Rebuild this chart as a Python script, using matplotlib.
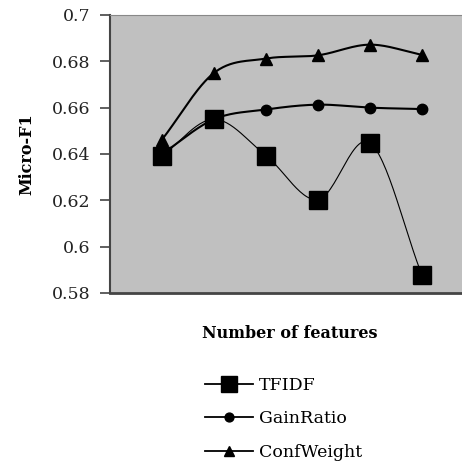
import matplotlib
matplotlib.use("Agg")
import matplotlib.pyplot as plt
import numpy as np
from matplotlib.lines import Line2D

# data
feature_steps = [1, 2, 3, 4, 5, 6]
tfidf = [0.6392, 0.6550, 0.6393, 0.6203, 0.6448, 0.5877]
gain_ratio = [0.6400, 0.6550, 0.6592, 0.6613, 0.6600, 0.6594]
conf_weight = [0.6462, 0.6750, 0.6812, 0.6826, 0.6872, 0.6828]
y_ticks = [0.58, 0.6, 0.62, 0.64, 0.66, 0.68, 0.7]
y_tick_labels = ["0.58", "0.6", "0.62", "0.64", "0.66", "0.68", "0.7"]

plt.rcParams["font.family"] = ["DejaVu Serif"]


def smooth(xs, ys, n=30):
    """Catmull-Rom style smoothing like the spreadsheet 'smoothed line'."""
    xs = np.asarray(xs, float)
    ys = np.asarray(ys, float)
    px = np.concatenate([[2 * xs[0] - xs[1]], xs, [2 * xs[-1] - xs[-2]]])
    py = np.concatenate([[2 * ys[0] - ys[1]], ys, [2 * ys[-1] - ys[-2]]])
    out_x, out_y = [], []
    t = np.linspace(0, 1, n)
    for i in range(1, len(px) - 2):
        p0x, p1x, p2x, p3x = px[i - 1:i + 3]
        p0y, p1y, p2y, p3y = py[i - 1:i + 3]
        c1x, c1y = p1x + (p2x - p0x) / 6, p1y + (p2y - p0y) / 6
        c2x, c2y = p2x - (p3x - p1x) / 6, p2y - (p3y - p1y) / 6
        bx = (1 - t) ** 3 * p1x + 3 * (1 - t) ** 2 * t * c1x + 3 * (1 - t) * t ** 2 * c2x + t ** 3 * p2x
        by = (1 - t) ** 3 * p1y + 3 * (1 - t) ** 2 * t * c1y + 3 * (1 - t) * t ** 2 * c2y + t ** 3 * p2y
        out_x.extend(bx)
        out_y.extend(by)
    return out_x, out_y


fig = plt.figure(figsize=(4.62, 4.63), dpi=100)
ax = fig.add_axes([110 / 462, 1 - 293 / 463, 1 - 110 / 462, (293 - 15) / 463])
ax.set_facecolor("#c0c0c0")

series = [
    (tfidf, "s", 13, 0.8, "TFIDF"),
    (gain_ratio, "o", 7.5, 1.5, "GainRatio"),
    (conf_weight, "^", 9, 1.5, "ConfWeight"),
]

handles = []
for values, marker, msize, lw, label in series:
    sx, sy = smooth(feature_steps, values)
    ax.plot(sx, sy, color="black", linewidth=lw, zorder=2)
    ax.plot(feature_steps, values, linestyle="none", marker=marker,
            markersize=msize, color="black", zorder=3)
    handles.append(Line2D([], [], color="black", linewidth=1.3, marker=marker,
                          markersize=msize * 0.85, label=label))

ax.set_xlim(0, 6.77)
ax.set_ylim(0.58, 0.7)
ax.set_xticks([])
ax.set_yticks(y_ticks)
ax.set_yticklabels(y_tick_labels, fontsize=12.5, color="#222222")
ax.tick_params(axis="y", direction="out", length=7, width=1.2, color="#444444", pad=7)

ax.spines["right"].set_visible(False)
ax.spines["top"].set_color("#888888")
ax.spines["top"].set_linewidth(0.8)
ax.spines["left"].set_color("#444444")
ax.spines["left"].set_linewidth(1.5)
ax.spines["bottom"].set_color("#444444")
ax.spines["bottom"].set_linewidth(2)

ax.set_ylabel("Micro-F1", fontsize=11.5, fontweight="bold", labelpad=12)
fig.text(290 / 462, 1 - 333 / 463, "Number of features", fontsize=11.5,
         fontweight="bold", ha="center", va="center")

fig.legend(handles=handles, loc="upper left",
           bbox_to_anchor=(196 / 462, 1 - 368 / 463), frameon=False,
           fontsize=12.5, handlelength=2.8, handletextpad=0.3,
           labelspacing=0.95, borderpad=0)

fig.savefig("out.png", dpi=100)
